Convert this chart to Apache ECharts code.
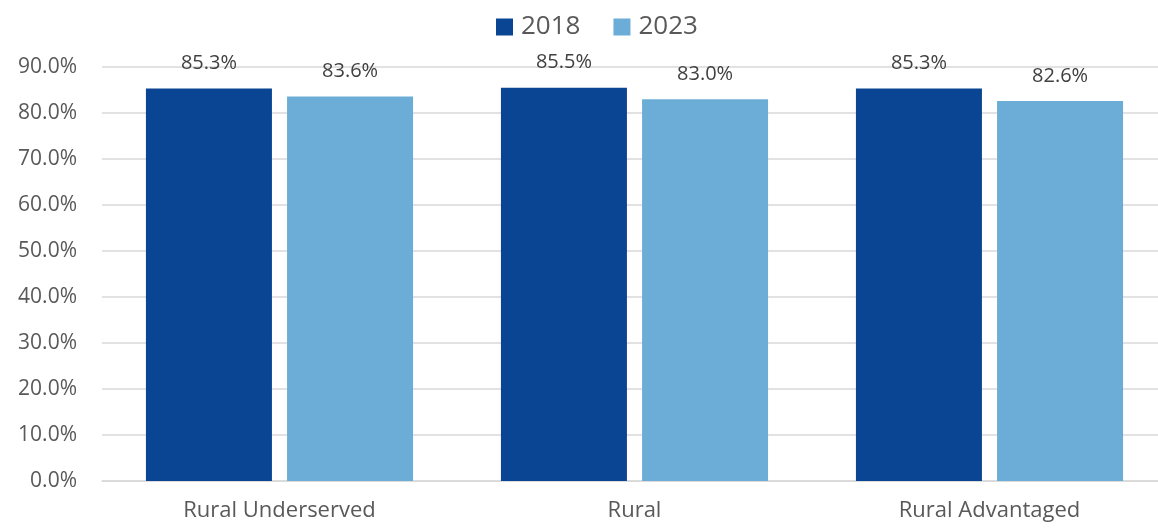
<!DOCTYPE html>
<html>
<head>
<meta charset="utf-8">
<script src="https://cdn.jsdelivr.net/npm/echarts@6/dist/echarts.min.js"></script>
<style>
  html, body { margin: 0; padding: 0; background: #ffffff; }
  #chart { width: 1158px; height: 529px; }
</style>
</head>
<body>
<div id="chart"></div>
<script>
// Share of residents by rurality group, 2018 vs 2023 (percent)
const categories = ['Rural Underserved', 'Rural', 'Rural Advantaged'];
const seriesNames = ['2018', '2023'];
const values2018 = [85.3, 85.5, 85.3];
const values2023 = [83.6, 83.0, 82.6];
const yTicks = { min: 0, max: 90, interval: 10 };
const colors = ['#0A4593', '#6BADD6'];

const font = '"Open Sans", "Noto Sans", sans-serif';
const textColor = '#595959';

const chart = echarts.init(document.getElementById('chart'), null, { renderer: 'canvas' });

const makeSeries = (name, data, color) => ({
  name: name,
  type: 'bar',
  data: data,
  barWidth: 126,
  barGap: '12%',
  itemStyle: { color: color },
  label: {
    show: true,
    position: 'top',
    distance: 15,
    formatter: p => p.value.toFixed(1) + '%',
    fontFamily: font,
    fontSize: 20,
    color: '#404040'
  }
});

chart.setOption({
  animation: false,
  color: colors,
  legend: {
    data: seriesNames,
    top: 9,
    left: 491,
    itemWidth: 17,
    itemHeight: 17,
    itemGap: 33,
    icon: 'rect',
    textStyle: { fontFamily: font, fontSize: 26, color: textColor, padding: [0, 0, 0, 3] }
  },
  // the plot band runs a few pixels past the right edge of the canvas
  grid: { left: 102, top: 67, right: -9, bottom: 48, outerBoundsMode: 'none', containLabel: false },
  xAxis: {
    type: 'category',
    data: categories,
    axisLine: { lineStyle: { color: '#D9D9D9', width: 1.5 } },
    axisTick: { show: false },
    axisLabel: { fontFamily: font, fontSize: 22, color: textColor, margin: 19 }
  },
  yAxis: {
    type: 'value',
    min: yTicks.min,
    max: yTicks.max,
    interval: yTicks.interval,
    axisLine: { show: false },
    axisTick: { show: false },
    splitLine: { lineStyle: { color: '#D9D9D9', width: 1.5 } },
    axisLabel: {
      fontFamily: font,
      fontSize: 21,
      color: textColor,
      margin: 25,
      formatter: v => v.toFixed(1) + '%'
    }
  },
  series: [
    makeSeries(seriesNames[0], values2018, colors[0]),
    makeSeries(seriesNames[1], values2023, colors[1])
  ]
});
</script>
</body>
</html>
